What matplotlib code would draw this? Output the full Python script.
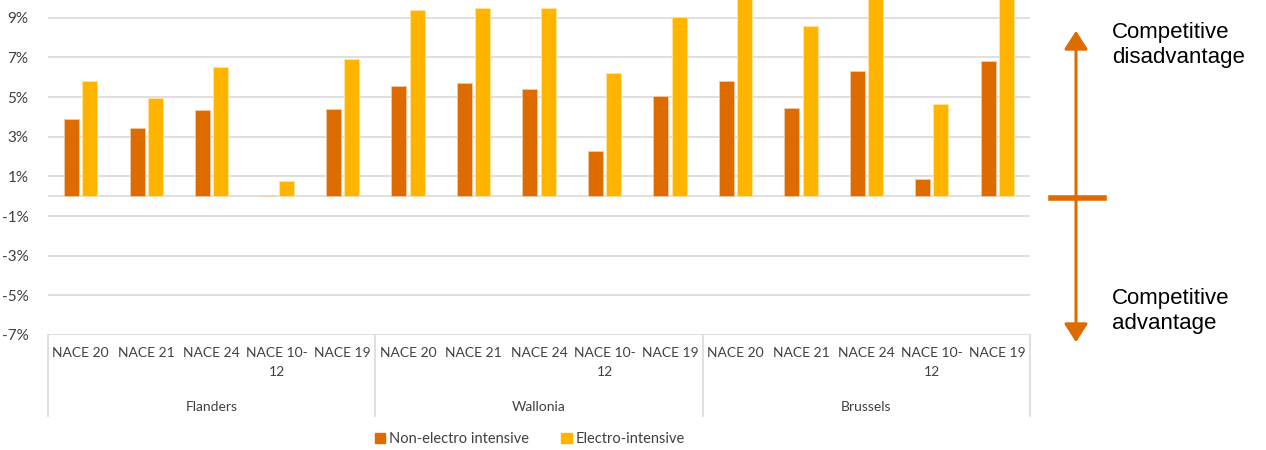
import numpy as np
import matplotlib.pyplot as plt
from matplotlib.patches import FancyArrowPatch, Patch
from matplotlib.lines import Line2D

# Data (in %)
regions = ['Flanders', 'Wallonia', 'Brussels']
sectors = ['NACE 20', 'NACE 21', 'NACE 24', 'NACE 10-\n12', 'NACE 19']
non_electro = [3.9, 3.45, 4.35, 0.0, 4.4,
               5.55, 5.7, 5.4, 2.27, 5.05,
               5.8, 4.45, 6.3, 0.87, 6.8]
electro = [5.8, 4.95, 6.5, 0.76, 6.9,
           9.4, 9.5, 9.5, 6.2, 9.05,
           10.6, 8.6, 10.4, 4.65, 10.5]
yticks = [-7, -5, -3, -1, 1, 3, 5, 7, 9]

c_non = '#DE6B00'
c_el = '#FFB500'
grid_c = '#D9D9D9'
font = 'Lato'

fig = plt.figure(figsize=(12.66, 4.5), dpi=100)
W, H = 1266, 450
ax = fig.add_axes([48 / W, 1 - 335 / H, (1030 - 48) / W, 335 / H])

x = np.arange(len(non_electro))
bw = 0.23
ax.bar(x - 0.14, non_electro, bw, color=c_non, edgecolor='#F3C9A8', linewidth=0.6, zorder=3)
ax.bar(x + 0.14, electro, bw, color=c_el, edgecolor='#FFE3A0', linewidth=0.6, zorder=3)

ax.set_xlim(-0.5, len(x) - 0.5)
ax.set_ylim(-7, 9.9)
ax.set_yticks(yticks)
ax.set_yticklabels([f'{v}%' for v in yticks], fontsize=11, color='#404040', family=font)
ax.tick_params(axis='y', length=0, pad=14)
ax.set_xticks([])
for v in yticks + [0]:
    ax.axhline(v, color=grid_c, linewidth=1.2, zorder=1)
for s in ax.spines.values():
    s.set_visible(False)

# multi-level category axis
for i in range(len(x)):
    lbl = sectors[i % len(sectors)]
    fig.text((48 + 65.47 * (i + 0.5)) / W, 1 - 347 / H, lbl, ha='center', va='top',
             fontsize=10, color='#404040', family=font, linespacing=1.75)
for j, r in enumerate(regions):
    cx = (48 + 65.47 * (5 * j + 2.5)) / W
    fig.text(cx, 1 - 407 / H, r, ha='center', va='center', fontsize=10,
             color='#404040', family=font)
for xb in [48, 375, 703, 1030]:
    fig.add_artist(Line2D([xb / W, xb / W], [1 - 335 / H, 1 - 416 / H], color=grid_c, lw=1.2))

# legend
handles = [Patch(color=c_non, label='Non-electro intensive'),
           Patch(color=c_el, label='Electro-intensive')]
leg = fig.legend(handles=handles, loc='center', bbox_to_anchor=(530 / W, 1 - 439 / H), ncol=2,
                 frameon=False, handlelength=0.7, handleheight=0.7, handletextpad=0.3,
                 columnspacing=2.2, prop={'family': font, 'size': 10.5})
for t in leg.get_texts():
    t.set_color('#404040')

# competitive arrow
ax_x = 1076 / W
arrow = FancyArrowPatch((ax_x, 1 - 345 / H), (ax_x, 1 - 28 / H), transform=fig.transFigure,
                        arrowstyle='<|-|>,head_length=7,head_width=4.5', color=c_non, lw=2.2,
                        mutation_scale=1.6)
fig.add_artist(arrow)
fig.add_artist(Line2D([1051 / W, 1104 / W], [1 - 198 / H, 1 - 198 / H], color=c_non, lw=4))
fig.text(1112 / W, 1 - 22 / H, 'Competitive\ndisadvantage', ha='left', va='top',
         fontsize=16, family='Liberation Sans', linespacing=1.25)
fig.text(1112 / W, 1 - 288 / H, 'Competitive\nadvantage', ha='left', va='top',
         fontsize=16, family='Liberation Sans', linespacing=1.25)

fig.savefig('out.png', dpi=100)
